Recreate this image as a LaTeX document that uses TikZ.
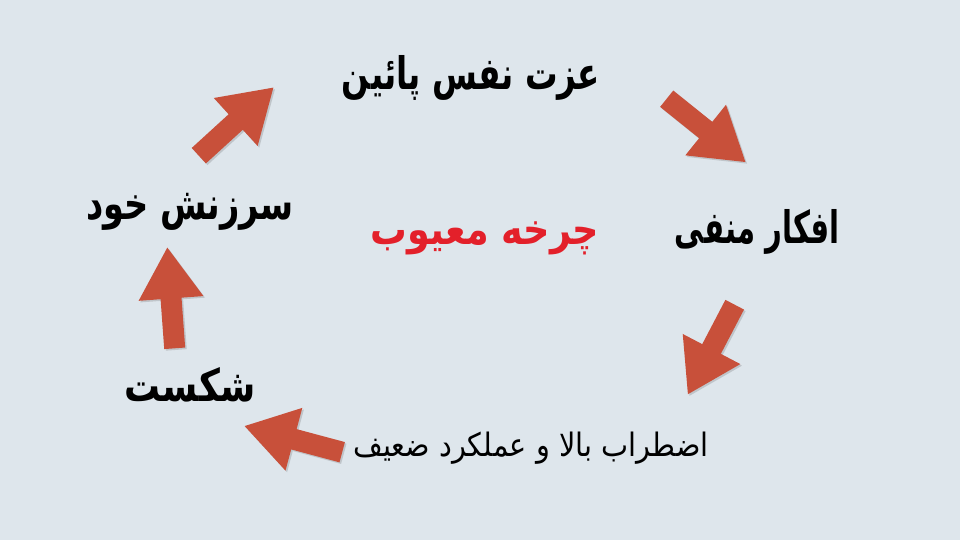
\documentclass[tikz,border=0pt]{standalone}
\usepackage{fontspec}
\usepackage{graphicx}
\usetikzlibrary{shadows}
\TeXXeTstate=1
\newfontfamily\fa[Script=Arabic]{DejaVu Sans}
\definecolor{bgcol}{HTML}{DEE6EC}
\definecolor{arrowcol}{HTML}{C8503A}
\definecolor{titlered}{HTML}{E3202A}
\tikzset{
  blockarrow/.style={fill=arrowcol, draw=none,
    drop shadow={shadow xshift=1.2pt, shadow yshift=-1.2pt, opacity=0.25, fill=black!60}},
  label/.style={font=\fa\bfseries\fontsize{28}{32}\selectfont, text=black, inner sep=0pt},
}
\newcommand\barrow[2]{% tail coordinate, canvas angle
  \path[blockarrow, shift={(#1)}, rotate=#2]
    (0,-10.5) -- (50,-10.5) -- (50,-32.5) -- (101,0) -- (50,32.5) -- (50,10.5) -- (0,10.5) -- cycle;}
\begin{document}
\begin{tikzpicture}[x=0.75pt, y=-0.75pt]
  \fill[bgcol] (0,0) rectangle (960,540);
  \useasboundingbox (0,0) rectangle (960,540);

  \node[label] (low)   at (471,78)  {\scalebox{0.87}[1.2]{\beginR عزت نفس پائین\endR}};
  \node[label] (neg)   at (757,232) {\scalebox{0.78}[1.2]{\beginR افکار منفی\endR}};
  \node[label, font=\fa\fontsize{22}{26}\selectfont] (anx) at (531,448) {\scalebox{0.98}[1.1]{\beginR اضطراب بالا و عملکرد ضعیف\endR}};
  \node[label] (fail)  at (190,385) {\scalebox{0.96}[1.2]{\beginR شکست\endR}};
  \node[label] (blame) at (190,212) {\scalebox{0.90}[1.2]{\beginR سرزنش خود\endR}};
  \node[label, text=titlered] (cycle) at (485,238) {\scalebox{0.98}[1.15]{\beginR چرخه معیوب\endR}};

  \coordinate (a1) at (666.7,98.7);
  \coordinate (a2) at (734.7,304.7);
  \coordinate (a3) at (342.2,452.2);
  \coordinate (a4) at (174.7,348.3);
  \coordinate (a5) at (198.8,155.7);
  \barrow{a1}{-38.8}
  \barrow{a2}{-117.6}
  \barrow{a3}{165.0}
  \barrow{a4}{94.2}
  \barrow{a5}{42.4}
\end{tikzpicture}
\end{document}
